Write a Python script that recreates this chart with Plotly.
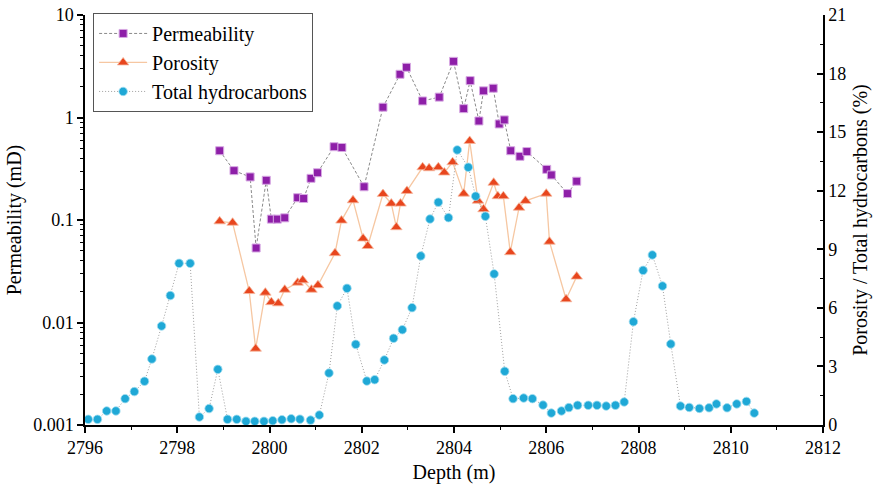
import plotly.graph_objects as go

# Permeability (mD) vs depth (m)
perm_depth = [2798.92, 2799.23, 2799.58, 2799.71, 2799.93, 2800.04, 2800.17, 2800.33, 2800.61, 2800.74,
              2800.90, 2801.04, 2801.40, 2801.57, 2802.05, 2802.46, 2802.83, 2802.97, 2803.32, 2803.68,
              2803.99, 2804.21, 2804.35, 2804.54, 2804.64, 2804.85, 2804.98, 2805.09, 2805.23, 2805.43,
              2805.58, 2806.01, 2806.11, 2806.46, 2806.66]
perm_vals = [0.474, 0.303, 0.263, 0.0533, 0.244, 0.102, 0.102, 0.105, 0.165, 0.162,
             0.255, 0.289, 0.519, 0.51, 0.211, 1.26, 2.64, 3.09, 1.45, 1.58,
             3.53, 1.22, 2.29, 0.925, 1.82, 1.93, 0.865, 0.947, 0.474, 0.418,
             0.465, 0.312, 0.275, 0.181, 0.239]

# Porosity (%) vs depth (m)
poro_depth = [2798.92, 2799.20, 2799.56, 2799.70, 2799.91, 2800.04, 2800.19, 2800.33, 2800.61, 2800.72,
              2800.91, 2801.05, 2801.42, 2801.56, 2801.81, 2802.03, 2802.13, 2802.46, 2802.64, 2802.75,
              2802.84, 2802.98, 2803.32, 2803.46, 2803.66, 2803.79, 2803.97, 2804.21, 2804.34, 2804.52,
              2804.64, 2804.86, 2804.95, 2805.07, 2805.22, 2805.41, 2805.55, 2806.00, 2806.07, 2806.43,
              2806.66]
poro_vals = [10.43, 10.36, 6.86, 3.91, 6.78, 6.29, 6.23, 6.93, 7.29, 7.41,
             6.93, 7.16, 8.80, 10.47, 11.51, 9.55, 9.17, 11.83, 11.34, 10.13,
             11.34, 11.99, 13.20, 13.15, 13.20, 12.93, 13.46, 11.85, 14.55, 11.49,
             11.05, 12.41, 11.72, 11.72, 8.85, 11.13, 11.48, 11.85, 9.39, 6.44,
             7.60]

# Total hydrocarbons (%) vs depth (m)
hc_depth = [2796.07, 2796.27, 2796.47, 2796.67, 2796.87, 2797.07, 2797.29, 2797.45, 2797.66, 2797.85,
            2798.04, 2798.28, 2798.48, 2798.69, 2798.88, 2799.09, 2799.29, 2799.49, 2799.68, 2799.88,
            2800.07, 2800.27, 2800.47, 2800.66, 2800.89, 2801.08, 2801.29, 2801.47, 2801.68, 2801.87,
            2802.11, 2802.28, 2802.49, 2802.69, 2802.88, 2803.09, 2803.28, 2803.48, 2803.66, 2803.88,
            2804.07, 2804.31, 2804.47, 2804.68, 2804.87, 2805.10, 2805.28, 2805.51, 2805.70, 2805.93,
            2806.11, 2806.33, 2806.49, 2806.68, 2806.91, 2807.10, 2807.30, 2807.50, 2807.69, 2807.89,
            2808.10, 2808.30, 2808.52, 2808.70, 2808.91, 2809.10, 2809.32, 2809.53, 2809.69, 2809.92,
            2810.13, 2810.34, 2810.51]
hc_vals = [0.29, 0.29, 0.72, 0.72, 1.35, 1.71, 2.24, 3.38, 5.07, 6.63,
           8.28, 8.28, 0.41, 0.84, 2.85, 0.29, 0.29, 0.19, 0.19, 0.19,
           0.22, 0.27, 0.32, 0.30, 0.25, 0.51, 2.66, 6.10, 7.00, 4.13,
           2.25, 2.32, 3.33, 4.44, 4.88, 6.01, 8.66, 10.55, 11.41, 10.62,
           14.09, 13.20, 11.72, 10.69, 7.74, 2.75, 1.35, 1.38, 1.35, 1.02,
           0.61, 0.72, 0.89, 1.01, 1.01, 1.01, 0.97, 1.01, 1.18, 5.29,
           7.92, 8.71, 7.12, 4.15, 0.97, 0.90, 0.85, 0.88, 1.08, 0.88,
           1.08, 1.21, 0.61]

x_ticks = [2796, 2798, 2800, 2802, 2804, 2806, 2808, 2810, 2812]
left_tickvals = [0.001, 0.01, 0.1, 1, 10]
left_ticktext = ["0.001", "0.01", "0.1", "1", "10"]
right_ticks = [0, 3, 6, 9, 12, 15, 18, 21]

FONT = "'Liberation Serif', 'Times New Roman', serif"

fig = go.Figure()

fig.add_trace(go.Scatter(
    x=perm_depth, y=perm_vals, name="Permeability", mode="lines+markers",
    line=dict(color="#8a8a8a", width=1, dash="3px,2px"),
    marker=dict(symbol="square", size=8, color="#8E1FA8",
                line=dict(color="#D7A9E3", width=1)),
    yaxis="y"))

fig.add_trace(go.Scatter(
    x=poro_depth, y=poro_vals, name="Porosity", mode="lines+markers",
    line=dict(color="#F6C7A2", width=1.3),
    marker=dict(symbol="triangle-up", size=10, color="#E8461E",
                line=dict(color="#F6B9A0", width=0.8)),
    yaxis="y2"))

fig.add_trace(go.Scatter(
    x=hc_depth, y=hc_vals, name="Total hydrocarbons", mode="lines+markers",
    line=dict(color="#a0a0a0", width=1, dash="1px,2px"),
    marker=dict(symbol="circle", size=8.5, color="#1FA8D6",
                line=dict(color="#9FDDF0", width=0.8)),
    yaxis="y2"))

fig.update_layout(
    width=882, height=489,
    margin=dict(l=85, r=59, t=15, b=64, autoexpand=False),
    plot_bgcolor="white", paper_bgcolor="white",
    font=dict(family=FONT, size=18, color="black"),
    showlegend=True,
    legend=dict(x=0.011, y=1.005, xanchor="left", yanchor="top",
                bgcolor="white", bordercolor="#555555", borderwidth=1,
                font=dict(family=FONT, size=20), tracegroupgap=0,
                itemwidth=48),
    xaxis=dict(range=[2796, 2812], tickvals=x_ticks, showgrid=False, zeroline=False,
               automargin=False, ticklabeloverflow="allow",
               showline=True, linecolor="black", linewidth=1.5,
               ticks="outside", ticklen=6, tickwidth=1.5, tickcolor="black",
               minor=dict(ticks="outside", ticklen=3, tickwidth=1, dtick=1, tickcolor="black"),
               title=dict(text="Depth (m)", font=dict(size=20), standoff=8),
               tickfont=dict(size=18)),
    yaxis=dict(type="log", range=[-3, 1], tickvals=left_tickvals, ticktext=left_ticktext,
               automargin=False, ticklabeloverflow="allow",
               showgrid=False, zeroline=False, showline=True, linecolor="black", linewidth=1.5,
               ticks="outside", ticklen=6, tickwidth=1.5, tickcolor="black",
               minor=dict(ticks="outside", ticklen=3, tickwidth=1, tickcolor="black",
                          tickvals=[m * 10 ** e for e in range(-3, 1) for m in range(2, 10)]),
               title=dict(text="Permeability (mD)", font=dict(size=20), standoff=6),
               tickfont=dict(size=18)),
    yaxis2=dict(range=[0, 21], tickvals=right_ticks, overlaying="y", side="right",
                automargin=False, ticklabeloverflow="allow",
                showgrid=False, zeroline=False, showline=True, linecolor="black", linewidth=1.5,
                ticks="inside", ticklen=6, tickwidth=1.5, tickcolor="black",
                minor=dict(ticks="inside", ticklen=3, tickwidth=1, dtick=1.5, tickcolor="black"),
                title=dict(text="Porosity / Total hydrocarbons (%)", font=dict(size=20), standoff=8),
                tickfont=dict(size=18)),
)

# remove the default 8px page margin so the figure fills the window exactly
fig.write_html("out.html",
               config={"displayModeBar": False},
               post_script="document.body.style.margin='0px';document.body.style.overflow='hidden';")
